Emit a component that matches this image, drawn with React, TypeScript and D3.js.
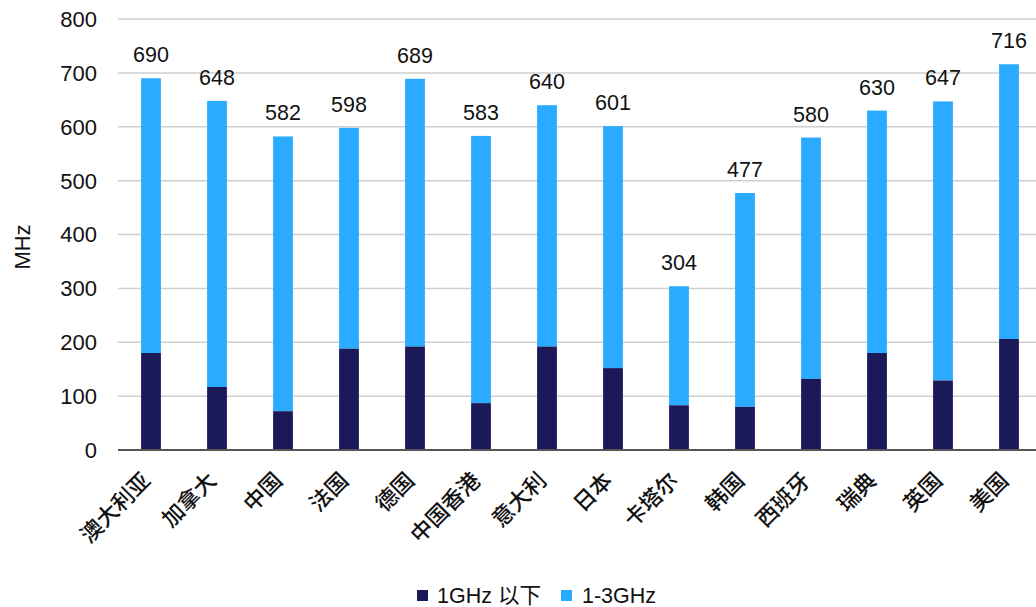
import React from "react";
import * as d3 from "d3";

const countries = ["澳大利亚", "加拿大", "中国", "法国", "德国", "中国香港", "意大利", "日本", "卡塔尔", "韩国", "西班牙", "瑞典", "英国", "美国"];
const totals = [690, 648, 582, 598, 689, 583, 640, 601, 304, 477, 580, 630, 647, 716];
const below1G = [180, 117, 72, 188, 192, 87, 192, 152, 83, 80, 132, 180, 129, 206];
const yTicks = [0, 100, 200, 300, 400, 500, 600, 700, 800];
const seriesNames = ["1GHz 以下", "1-3GHz"];

const W = 1036;
const H = 607;
const DARK = "#1b1958";
const LIGHT = "#2aabff";
const FONT = "'Liberation Sans', Arial, 'Noto Sans CJK SC', sans-serif";

export default function App() {
  const x = d3.scaleBand<string>().domain(countries).range([118, 1042]).paddingInner(0.7).paddingOuter(0.35);
  const y = d3.scaleLinear().domain([0, 800]).range([450, 19]);
  const bw = x.bandwidth();

  return (
    <svg
      width={W}
      height={H}
      style={{ position: "absolute", left: 0, top: 0, background: "#fff" }}
      fontFamily={FONT}
    >
      {/* grid and y tick labels */}
      {yTicks.map((t) => (
        <g key={t}>
          {t > 0 && (
            <line x1={118} x2={W} y1={y(t)} y2={y(t)} stroke="#cfcfcf" strokeWidth={1.5} />
          )}
          <text x={97} y={y(t)} dy="0.36em" textAnchor="end" fontSize={22} fill="#111">
            {t}
          </text>
        </g>
      ))}

      {/* stacked bars */}
      {countries.map((c, i) => {
        const x0 = x(c)!;
        const lo = below1G[i];
        const tot = totals[i];
        const cx = x0 + bw / 2;
        return (
          <g key={c}>
            <rect x={x0} y={y(tot)} width={bw} height={y(lo) - y(tot)} fill={LIGHT} />
            <rect x={x0} y={y(lo)} width={bw} height={y(0) - y(lo)} fill={DARK} />
            <text x={cx} y={y(tot) - 16} textAnchor="middle" fontSize={21.5} fill="#111">
              {tot}
            </text>
            <text
              transform={`translate(${cx - 10},${471}) rotate(-45)`}
              textAnchor="end"
              dy="0.7em"
              fontSize={22}
              fontWeight={500}
              fill="#111"
              fontFamily="'Noto Sans CJK SC', sans-serif"
            >
              {c}
            </text>
          </g>
        );
      })}

      {/* baseline */}
      <line x1={118} x2={W} y1={y(0)} y2={y(0)} stroke="#555" strokeWidth={2} />

      {/* y-axis title */}
      <text transform="translate(30,247) rotate(-90)" textAnchor="middle" fontSize={22} fill="#111">
        MHz
      </text>

      {/* legend */}
      <g>
        <rect x={417} y={590} width={11} height={11} fill={DARK} />
        <text x={437} y={603} fontSize={21.5} fill="#111" fontFamily="'Liberation Sans', 'Noto Sans CJK SC', sans-serif">
          {seriesNames[0]}
        </text>
        <rect x={561} y={590} width={11} height={11} fill={LIGHT} />
        <text x={582} y={603} fontSize={21.5} fill="#111">
          {seriesNames[1]}
        </text>
      </g>
    </svg>
  );
}
